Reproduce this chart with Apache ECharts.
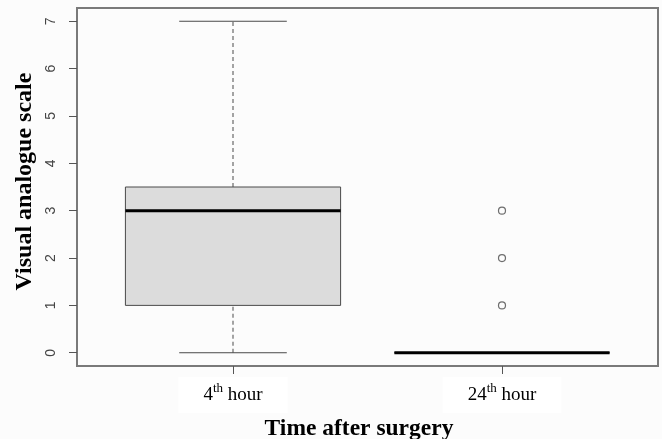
<!DOCTYPE html>
<html>
<head>
<meta charset="utf-8">
<script src="https://cdn.jsdelivr.net/npm/echarts@6/dist/echarts.min.js"></script>
<style>html,body{margin:0;padding:0;background:#fcfcfc}#c{width:662px;height:439px}</style>
</head>
<body>
<div id="c"></div>
<script>
// ---- data ----
const ordinals = ['4', '24'];
const ordinalSuffix = 'th';
const unitWord = 'hour';
const minVals = [0, 0];
const q1Vals = [1, 0];
const medianVals = [3, 0];
const q3Vals = [3.5, 0];
const maxVals = [7, 0];
const outlierGroup = [2, 2, 2];
const outlierValues = [1, 2, 3];
const yTicks = [0, 1, 2, 3, 4, 5, 6, 7];
const xTicks = [1, 2];
const yTitle = 'Visual analogue scale';
const xTitle = 'Time after surgery';

// ---- build ----
const boxData = ordinals.map((_, i) => [i + 1, minVals[i], q1Vals[i], medianVals[i], q3Vals[i], maxVals[i]]);
const outlierData = outlierValues.map((v, i) => [outlierGroup[i], v]);

const lineCol = '#4a4a4a';
function renderBox(params, api) {
  const x = api.value(0);
  const mn = api.value(1), q1 = api.value(2), md = api.value(3), q3 = api.value(4), mx = api.value(5);
  const w = api.size([0.8, 0])[0];
  const cw = w / 2;
  const pMin = api.coord([x, mn]), pQ1 = api.coord([x, q1]), pMd = api.coord([x, md]);
  const pQ3 = api.coord([x, q3]), pMax = api.coord([x, mx]);
  const cx = pMd[0];
  const children = [];
  const dash = { stroke: lineCol, lineWidth: 1, lineDash: [4, 3] };
  const solid = { stroke: lineCol, lineWidth: 1 };
  children.push({ type: 'line', shape: { x1: cx, y1: pQ3[1], x2: cx, y2: pMax[1] }, style: dash });
  children.push({ type: 'line', shape: { x1: cx, y1: pMin[1], x2: cx, y2: pQ1[1] }, style: dash });
  children.push({ type: 'line', shape: { x1: cx - cw / 2, y1: pMax[1], x2: cx + cw / 2, y2: pMax[1] }, style: solid });
  children.push({ type: 'line', shape: { x1: cx - cw / 2, y1: pMin[1], x2: cx + cw / 2, y2: pMin[1] }, style: solid });
  children.push({ type: 'rect', shape: { x: cx - w / 2, y: pQ3[1], width: w, height: pQ1[1] - pQ3[1] },
    style: { fill: '#dcdcdc', stroke: lineCol, lineWidth: 1 } });
  children.push({ type: 'line', shape: { x1: cx - w / 2, y1: pMd[1], x2: cx + w / 2, y2: pMd[1] },
    style: { stroke: '#000', lineWidth: 3 } });
  return { type: 'group', children };
}

const chart = echarts.init(document.getElementById('c'), null, { renderer: 'canvas' });
chart.setOption({
  backgroundColor: '#fcfcfc',
  animation: false,
  grid: { left: 77, right: 4, top: 8, bottom: 73, show: true, borderColor: '#7a7a7a', borderWidth: 2,
    backgroundColor: 'transparent', containLabel: false, outerBoundsMode: 'none' },
  xAxis: {
    type: 'value', min: 0.42, max: 2.58,
    splitLine: { show: false },
    axisLine: { show: false, onZero: false },
    axisTick: { show: true, customValues: xTicks, length: 8, lineStyle: { color: '#555', width: 1 } },
    axisLabel: {
      customValues: xTicks,
      margin: 11,
      formatter: v => ordinals[v - 1] + '{sup|' + ordinalSuffix + '} ' + unitWord,
      fontFamily: 'Liberation Serif', fontSize: 19, color: '#000',
      backgroundColor: '#ffffff', padding: [5, 25, 5, 25], lineHeight: 26,
      rich: { sup: { fontFamily: 'Liberation Serif', fontSize: 13, color: '#000', verticalAlign: 'top', lineHeight: 10 } }
    },
    name: xTitle, nameLocation: 'middle', nameGap: 51, nameMoveOverlap: false,
    nameTextStyle: { fontFamily: 'Liberation Serif', fontWeight: 'bold', fontSize: 23.5, color: '#000', padding: [0, 17, 0, 0] }
  },
  yAxis: {
    type: 'value', min: -0.28, max: 7.28,
    splitLine: { show: false },
    axisLine: { show: false, onZero: false },
    axisTick: { show: true, customValues: yTicks, length: 8, lineStyle: { color: '#555', width: 1 } },
    axisLabel: { customValues: yTicks, rotate: 90, margin: 19, fontFamily: 'Liberation Sans', fontSize: 14, color: '#444' },
    name: yTitle, nameLocation: 'middle', nameGap: 40, nameMoveOverlap: false,
    nameTextStyle: { fontFamily: 'Liberation Serif', fontWeight: 'bold', fontSize: 24, color: '#000', padding: [0, 0, 0, 11] }
  },
  series: [
    { type: 'custom', renderItem: renderBox, data: boxData, encode: { x: 0, y: [1, 2, 3, 4, 5] }, z: 2 },
    { type: 'scatter', data: outlierData, symbol: 'circle', symbolSize: 7,
      itemStyle: { color: 'rgba(0,0,0,0)', borderColor: '#4a4a4a', borderWidth: 1.2 }, z: 3 }
  ]
});
</script>
</body>
</html>
